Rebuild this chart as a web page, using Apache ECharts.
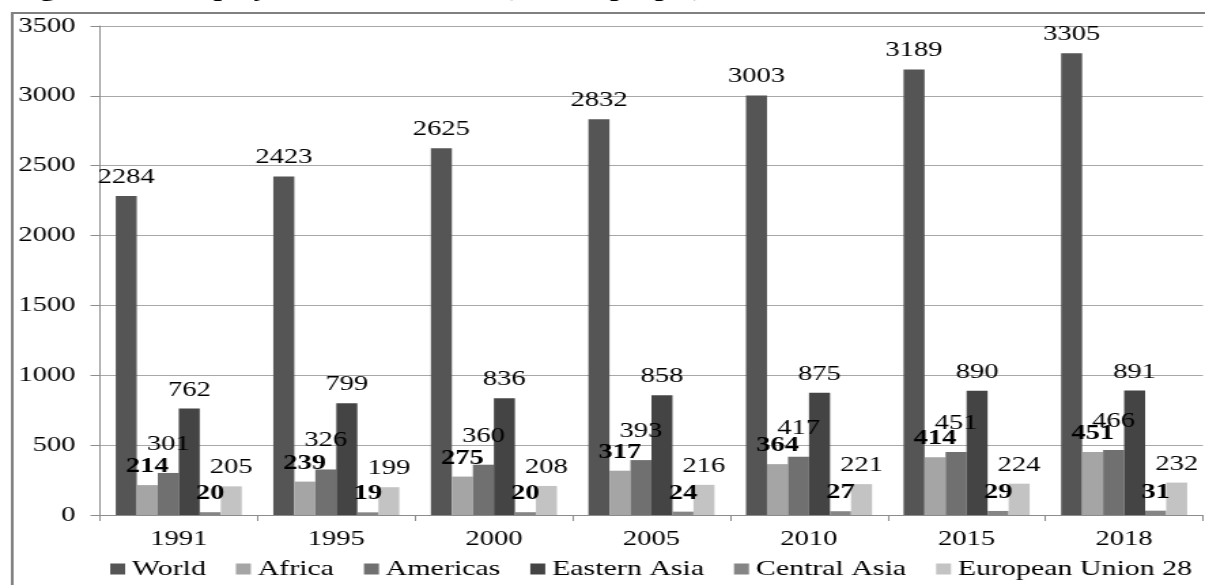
<!DOCTYPE html>
<html>
<head>
<meta charset="utf-8">
<title>Total employment in the world</title>
<script src="https://cdn.jsdelivr.net/npm/echarts@6/dist/echarts.min.js"></script>
<style>
  html, body { margin: 0; padding: 0; background: #fff; overflow: hidden; }
  /* the figure is laid out narrow and widened horizontally, like the printed figure */
  #chart { width: 886px; height: 585px; transform: scaleX(1.36); transform-origin: 0 0; }
</style>
</head>
<body>
<div id="chart"></div>
<script>
const years = ['1991', '1995', '2000', '2005', '2010', '2015', '2018'];
const world = [2284, 2423, 2625, 2832, 3003, 3189, 3305];
const africa = [214, 239, 275, 317, 364, 414, 451];
const americas = [301, 326, 360, 393, 417, 451, 466];
const easternAsia = [762, 799, 836, 858, 875, 890, 891];
const centralAsia = [20, 19, 20, 24, 27, 29, 31];
const eu28 = [205, 199, 208, 216, 221, 224, 232];
const titleText = 'Fig. 1: Total employment in the world (million people)';

const serif = '"Liberation Serif", "Times New Roman", serif';

function bar(name, data, color, bold, distance) {
  return {
    name: name,
    type: 'bar',
    data: data,
    barGap: '0%',
    barCategoryGap: '20%',
    itemStyle: { color: color },
    label: {
      show: true,
      position: 'top',
      distance: distance,
      color: '#000',
      fontFamily: serif,
      fontSize: 21,
      fontWeight: bold ? 'bold' : 'normal'
    },
    emphasis: { disabled: true }
  };
}

const chart = echarts.init(document.getElementById('chart'), null, { renderer: 'canvas' });
chart.setOption({
  animation: false,
  backgroundColor: '#fff',
  textStyle: { fontFamily: serif },
  graphic: [
    {
      type: 'rect',
      shape: { x: 9, y: 13, width: 900, height: 600 },
      style: { fill: 'none', stroke: '#808080', lineWidth: 2 },
      silent: true,
      z: -1
    },
    {
      // heading sits above the frame, mostly cut off by the page edge
      type: 'text',
      x: 10,
      y: -23,
      z: 10,
      style: {
        text: titleText,
        fontFamily: serif,
        fontSize: 22,
        lineHeight: 26,
        fontWeight: 'bold',
        fill: '#000',
        align: 'left',
        verticalAlign: 'top'
      },
      silent: true
    }
  ],
  grid: { left: 73.5, right: 1.5, top: 26, bottom: 70, containLabel: false },
  legend: {
    left: 76,
    top: 553,
    width: 840,
    itemWidth: 11,
    itemHeight: 11,
    itemGap: 22,
    icon: 'rect',
    textStyle: { fontFamily: serif, fontSize: 22, color: '#000' },
    selectedMode: false
  },
  xAxis: {
    type: 'category',
    data: years,
    axisLine: { lineStyle: { color: '#8c8c8c', width: 1 } },
    axisTick: { show: true, length: 6, lineStyle: { color: '#8c8c8c' } },
    axisLabel: { color: '#000', fontFamily: serif, fontSize: 21, margin: 14 },
    splitLine: { show: false }
  },
  yAxis: {
    type: 'value',
    min: 0,
    max: 3500,
    interval: 500,
    axisLine: { show: true, lineStyle: { color: '#8c8c8c', width: 1 } },
    axisTick: { show: true, length: 7, lineStyle: { color: '#8c8c8c' } },
    axisLabel: {
      color: '#000',
      fontFamily: serif,
      fontSize: 21,
      margin: 18,
      formatter: function (v) { return String(v); }
    },
    splitLine: { show: true, lineStyle: { color: '#a8a8a8', width: 1 } }
  },
  series: [
    bar('World', world, '#555555', false, 8),
    bar('Africa', africa, '#a5a5a5', true, 8),
    bar('Americas', americas, '#707070', false, 18),
    bar('Eastern Asia', easternAsia, '#444444', false, 8),
    bar('Central Asia', centralAsia, '#858585', true, 8),
    bar('European Union 28', eu28, '#c3c3c3', false, 8)
  ]
});
</script>
</body>
</html>
